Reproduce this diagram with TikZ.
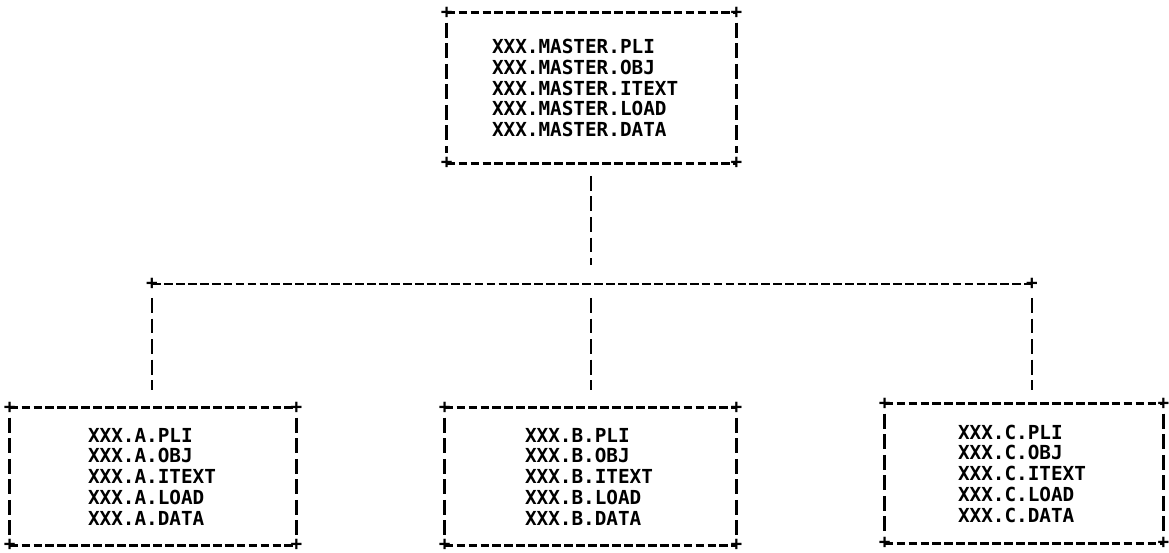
\documentclass[tikz,border=0pt]{standalone}
\usepackage{fontspec}
\setmonofont{DejaVu Sans Mono}
\usetikzlibrary{positioning}

\begin{document}
\begin{tikzpicture}[
  dsbox/.style={draw=none, align=left, font=\ttfamily\bfseries\fontsize{11}{11.8}\selectfont,
    text width=#1, inner ysep=0pt, minimum height=2.74cm},
  hline/.style={line width=1.5pt, dash pattern=on 5pt off 1.8pt},
  vline/.style={line width=1.5pt, dash pattern=on 8.5pt off 3.2pt},
  corner/.style={inner sep=0pt, font=\ttfamily\bfseries\fontsize{11}{11}\selectfont}]
\path[use as bounding box] (0,0) rectangle (23.38,-11.06);
% data set boxes
\node[dsbox=3.98cm, inner xsep=0.9cm, minimum height=3cm] (M) at (11.83,-1.76)
  {XXX.MASTER.PLI\\XXX.MASTER.OBJ\\XXX.MASTER.ITEXT\\XXX.MASTER.LOAD\\XXX.MASTER.DATA};
\node[dsbox=2.6cm, inner xsep=1.56cm] (A) at (3.06,-9.53)
  {XXX.A.PLI\\XXX.A.OBJ\\XXX.A.ITEXT\\XXX.A.LOAD\\XXX.A.DATA};
\node[dsbox=2.62cm, inner xsep=1.6cm] (B) at (11.81,-9.53)
  {XXX.B.PLI\\XXX.B.OBJ\\XXX.B.ITEXT\\XXX.B.LOAD\\XXX.B.DATA};
\node[dsbox=2.64cm, inner xsep=1.46cm, minimum height=2.78cm] (C) at (20.48,-9.47)
  {XXX.C.PLI\\XXX.C.OBJ\\XXX.C.ITEXT\\XXX.C.LOAD\\XXX.C.DATA};
% frames
\foreach \b in {M,A,B,C} {
  \draw[hline] (\b.north west) -- (\b.north east);
  \draw[hline] (\b.south west) -- (\b.south east);
  \draw[vline, shorten <=0.2cm, shorten >=0.2cm] (\b.north west) -- (\b.south west);
  \draw[vline, shorten <=0.2cm, shorten >=0.2cm] (\b.north east) -- (\b.south east);
  \foreach \c in {north west,north east,south west,south east}
    \node[corner] at (\b.\c) {+};
}
% tree lines
\coordinate (jl) at (3.04,-5.68);
\coordinate (jm) at (11.82,-5.68);
\coordinate (jr) at (20.64,-5.68);
\draw[hline] (jl) -- (jr);
\node[corner] at (jl) {+};
\node[corner] at (jr) {+};
\draw[vline, shorten <=0.25cm, shorten >=0.38cm] (jm |- M.south) -- (jm);
\draw[vline, shorten <=0.28cm, shorten >=0.36cm] (jl) -- (jl |- A.north);
\draw[vline, shorten <=0.28cm, shorten >=0.36cm] (jm) -- (jm |- B.north);
\draw[vline, shorten <=0.28cm, shorten >=0.28cm] (jr) -- (jr |- C.north);
\end{tikzpicture}
\end{document}
